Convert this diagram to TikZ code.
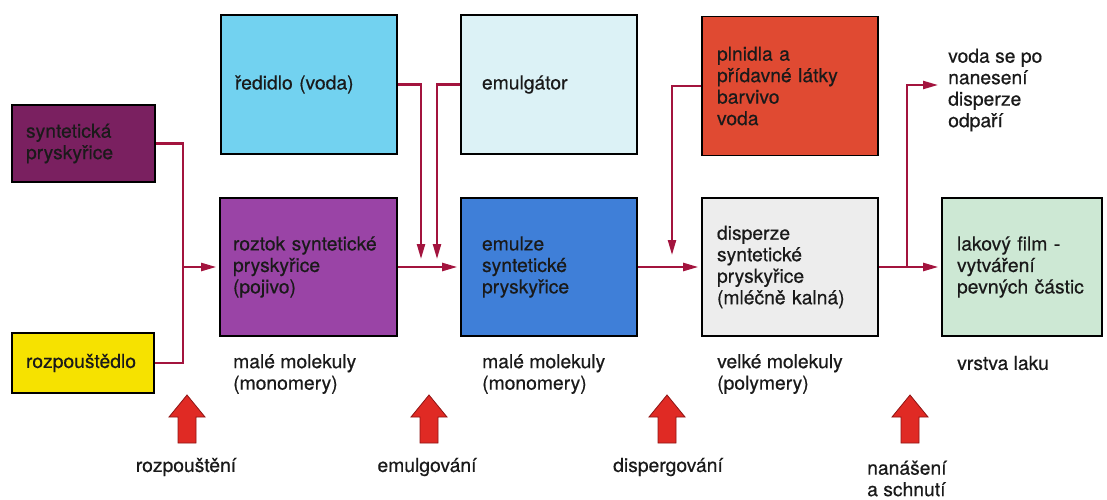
\documentclass[tikz,border=0pt]{standalone}
\usepackage{fontspec}
\setmainfont{TeX Gyre Heros}[UprightFeatures={FakeBold=0.5}]
\usetikzlibrary{arrows.meta}
\definecolor{synC}{HTML}{7A2060}
\definecolor{yelC}{HTML}{F6E200}
\definecolor{redC}{HTML}{72D2F0}
\definecolor{emgC}{HTML}{DCF2F6}
\definecolor{rozC}{HTML}{9A44A6}
\definecolor{emzC}{HTML}{3F7FD8}
\definecolor{plnC}{HTML}{E04A32}
\definecolor{disC}{HTML}{EDEDED}
\definecolor{lakC}{HTML}{CDE8D4}
\definecolor{connC}{HTML}{A3143E}
\definecolor{upred}{HTML}{E02A24}
\definecolor{updark}{HTML}{8E1414}
\definecolor{txtC}{HTML}{1A1A1A}
\begin{document}
\begin{tikzpicture}[x=1pt,y=-1pt,
  box/.style={draw=black, line width=1.6pt, inner xsep=14pt, inner ysep=0pt,
    align=left, text=txtC, font=\fontsize{19.3}{21.5}\selectfont},
  lbl/.style={inner sep=0pt, align=left, text=txtC, font=\fontsize{19.3}{21.5}\selectfont},
  conn/.style={draw=connC, line width=2.2pt},
  arr/.style={conn, -{Triangle[length=15pt,width=8pt]}},
  uparr/.pic={\draw[fill=upred, draw=updark, line width=0.8pt, line join=miter]
     (-9,26) -- (-9,0) -- (-18,0) -- (0,-22) -- (18,0) -- (9,0) -- (9,26) -- cycle;}
]
\useasboundingbox (0,0) rectangle (1107,500);
\fill[white] (0,0) rectangle (1107,500);

% boxes
\node[box, fill=synC, minimum width=143pt, minimum height=77pt, text width=115pt] (syn) at (83.5,143.5) {syntetická\\pryskyřice};
\node[box, fill=yelC, minimum width=142pt, minimum height=60pt, text width=114pt, inner xsep=13pt] (rozp) at (83,363) {rozpouštědlo};
\node[box, fill=redC, minimum width=176pt, minimum height=139pt, text width=148pt] (red) at (309,84.5) {ředidlo (voda)};
\node[box, fill=emgC, minimum width=176pt, minimum height=139pt, inner xsep=21pt, text width=134pt] (emg) at (549,84.5) {emulgátor};
\node[box, fill=plnC, minimum width=176pt, minimum height=139pt, inner xsep=15pt, text width=146pt] (pln) at (790,86) {plnidla a\\přídavné látky\\barvivo\\voda};
\node[box, fill=rozC, minimum width=177pt, minimum height=138pt, inner xsep=13pt, text width=151pt] (roz) at (308.5,267) {roztok syntetické\\pryskyřice\\(pojivo)};
\node[box, fill=emzC, minimum width=176pt, minimum height=138pt, inner xsep=21pt, text width=134pt] (emz) at (549,267) {emulze\\syntetické\\pryskyřice};
\node[box, fill=disC, minimum width=176pt, minimum height=138pt, inner xsep=15pt, text width=146pt] (dis) at (790,267) {disperze\\syntetické\\pryskyřice\\(mléčně kalná)};
\node[box, fill=lakC, minimum width=160pt, minimum height=138pt, inner xsep=15pt, text width=130pt] (lak) at (1022,267) {lakový film -\\vytváření\\pevných částic};

% labels under boxes
\node[lbl, anchor=west] (l1) at (233,374) {malé molekuly\\(monomery)};
\node[lbl, anchor=west] (l2) at (482,374) {malé molekuly\\(monomery)};
\node[lbl, anchor=west] (l3) at (717,374) {velké molekuly\\(polymery)};
\node[lbl, anchor=west] (l4) at (957,363) {vrstva laku};
\node[lbl, anchor=west] (vod) at (948,90) {voda se po\\nanesení\\disperze\\odpaří};

% process labels
\node[lbl] (p1) at (186,467) {rozpouštění};
\node[lbl] (p2) at (427,467) {emulgování};
\node[lbl] (p3) at (668,467) {dispergování};
\node[lbl, anchor=west] (p4) at (867,478.5) {nanášení\\a schnutí};

% connectors
\coordinate (j1) at (183,267);
\draw[conn] (syn.east) -| (j1) |- (rozp.east);
\draw[arr, shorten >=3pt] (j1) -- (roz.west);

\coordinate (d1) at (421,259);
\coordinate (d2) at (437,259);
\draw[arr] (red.east) -| (d1);
\draw[arr] (emg.west) -| (d2);
\draw[arr, shorten >=3pt] (roz.east) -- (emz.west);

\coordinate (d3) at (672,255);
\draw[arr] (pln.west) -| (d3);
\draw[arr, shorten >=3pt] (emz.east) -- (dis.west);

\coordinate (b1) at (907,267);
\coordinate (b2) at (938,85);
\draw[arr, shorten >=3pt] (dis.east) -- (lak.west);
\draw[arr] (b1) |- (b2);

% process arrows
\pic at (187,417) {uparr};
\pic at (429,417) {uparr};
\pic at (667,417) {uparr};
\pic at (910,417) {uparr};
\end{tikzpicture}
\end{document}
